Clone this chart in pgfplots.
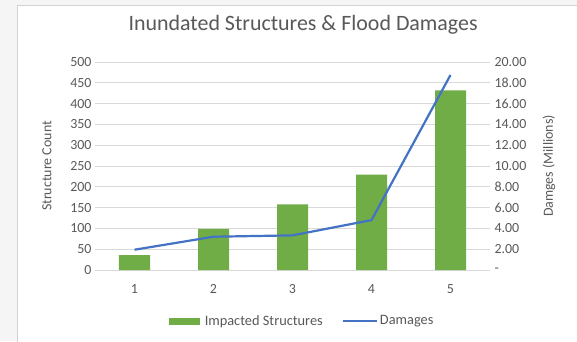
\documentclass[border=0pt]{standalone}
\usepackage{fontspec}
\setmainfont{Carlito}
\usepackage{pgfplots}
\pgfplotsset{compat=1.18}
\definecolor{xgreen}{HTML}{70AD47}
\definecolor{xblue}{HTML}{4472C4}
\definecolor{xtext}{HTML}{595959}
\definecolor{xgrid}{HTML}{D9D9D9}
\begin{document}
\begin{tikzpicture}[x=1bp,y=1bp]
\useasboundingbox (-95,-71) rectangle (482,270);
\fill[gray!8] (-95,-71) rectangle (482,270);
\fill[white,draw=gray!35] (-78,-75) rectangle (486,265);
\pgfplotsset{
  common/.style={
    scale only axis, width=395bp, height=208bp,
    at={(0,0)}, anchor=south west,
    xmin=0.5, xmax=5.5,
    tick style={draw=none},
    ticklabel style={text=xtext, font=\fontsize{14}{16}\selectfont},
    /pgf/number format/assume math mode=true,
  }
}
\begin{axis}[common,
  ymin=0, ymax=500, ytick={0,50,...,500},
  xtick={1,2,3,4,5},
  ymajorgrids, grid style={xgrid, line width=0.8pt},
  axis lines*=left,
  y axis line style={draw=none},
  x axis line style={xgrid, line width=0.8pt},
  xticklabel style={yshift=-11bp},
  ylabel={Structure Count},
  every axis y label/.style={at={(rel axis cs:0,0.5)}, xshift=-48bp, rotate=90, anchor=center,
    text=xtext, font=\fontsize{14}{16}\selectfont},
  title={Inundated Structures \& Flood Damages},
  title style={at={(rel axis cs:0.527,1)}, anchor=center, yshift=31bp, text=xtext, font=\fontsize{22}{26}\selectfont},
]
\addplot[ybar, bar width=31bp, fill=xgreen, draw=none] coordinates {(1,36) (2,99) (3,158) (4,229) (5,432)};
\end{axis}
\begin{axis}[common,
  ymin=0, ymax=20, ytick={0,2,...,20},
  yticklabels={-,2.00,4.00,6.00,8.00,10.00,12.00,14.00,16.00,18.00,20.00},
  axis y line*=right, axis x line=none,
  y axis line style={draw=none},
  yticklabel style={xshift=1bp},
  ylabel={Damges (Millions)},
  every axis y label/.style={at={(rel axis cs:1,0.5)}, xshift=59bp, rotate=90, anchor=center,
    text=xtext, font=\fontsize{14}{16}\selectfont},
  legend columns=2,
  legend style={at={(rel axis cs:0.525,0)}, yshift=-51bp, anchor=center, draw=none, fill=none,
    font=\fontsize{14.4}{16}\selectfont, text=xtext,
    /tikz/every even column/.append style={column sep=17bp}},
]
\addlegendimage{legend image code/.code={\fill[xgreen] (0bp,-3bp) rectangle (30bp,3bp);}}
\addlegendentry{\hspace{3bp}Impacted Structures}
\addplot[xblue, line width=2.2bp, mark=none,
  legend image code/.code={\draw[xblue, line width=2.2bp] (0bp,0bp) -- (34bp,0bp);}]
  coordinates {(1,1.95) (2,3.2) (3,3.33) (4,4.8) (5,18.75)};
\addlegendentry{Damages}
\end{axis}
\end{tikzpicture}
\end{document}
